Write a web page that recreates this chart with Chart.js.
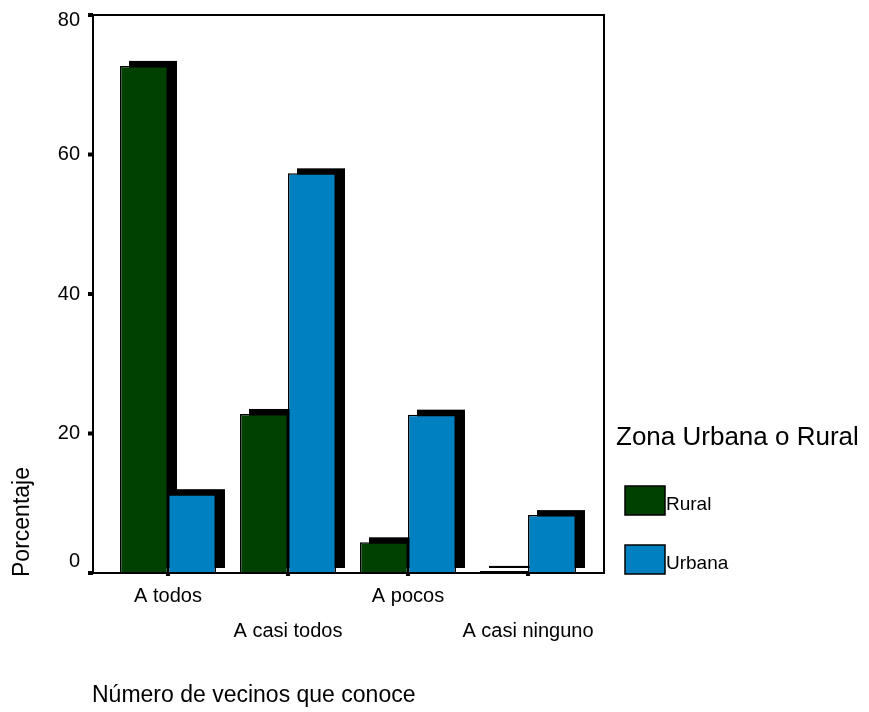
<!DOCTYPE html>
<html><head><meta charset="utf-8">
<script src="https://cdn.jsdelivr.net/npm/chart.js@4"></script>
<style>html,body{margin:0;padding:0;background:#fff}#wrap{width:869px;height:712px}</style>
</head><body><div id="wrap"><canvas id="c" width="869" height="712"></canvas></div>
<script>
const categories = ['A todos', 'A casi todos', 'A pocos', 'A casi ninguno'];
const rural = [72.7, 22.8, 4.4, 0.3];
const urbana = [11.3, 57.3, 22.7, 8.3];
const yTicks = [0, 20, 40, 60, 80];
const seriesNames = ['Rural', 'Urbana'];
const legendTitle = 'Zona Urbana o Rural';
const yTitle = 'Porcentaje';
const xTitle = 'Número de vecinos que conoce';

const FONT = '"Liberation Sans", Arial, sans-serif';
const colors = ['#004000', '#0080c0'];

const shadowPlugin = {
  id: 'shadow',
  beforeDatasetsDraw(chart) {
    const ctx = chart.ctx;
    ctx.save();
    ctx.fillStyle = '#000';
    chart.data.datasets.forEach((ds, i) => {
      chart.getDatasetMeta(i).data.forEach(bar => {
        const w = bar.width;
        const h = Math.max(bar.base - bar.y, 1.5);
        ctx.fillRect(bar.x - w / 2 + 9, bar.base - h - 5, w, h);
      });
    });
    ctx.restore();
  }
};

const framePlugin = {
  id: 'frame',
  afterDatasetsDraw(chart) {
    const ctx = chart.ctx;
    const a = chart.chartArea;
    const L = a.left - 15, R = a.right + 16, T = a.top, B = a.bottom;
    ctx.save();
    ctx.strokeStyle = '#000';
    ctx.lineWidth = 2;
    ctx.strokeRect(L, T, R - L, B - T);
    const ys = chart.scales.y;
    ctx.fillStyle = '#000';
    yTicks.forEach(v => {
      const py = ys.getPixelForValue(v);
      ctx.fillRect(L - 5, py - 2, 5, 4);
    });
    const xs = chart.scales.x;
    categories.forEach((c, i) => {
      const px = xs.getPixelForTick(i);
      ctx.fillRect(px - 2, B, 4, 3);
    });
    ctx.fillStyle = '#000';
    ctx.textBaseline = 'middle';
    ctx.textAlign = 'left';
    ctx.font = '23px ' + FONT;
    ctx.fillText(xTitle, 92, 696);
    ctx.save();
    ctx.translate(23, 522);
    ctx.rotate(-Math.PI / 2);
    ctx.textAlign = 'center';
    ctx.fillText(yTitle, 0, 0);
    ctx.restore();
    ctx.textAlign = 'left';
    ctx.font = '26px ' + FONT;
    ctx.fillText(legendTitle, 616, 438);
    ctx.font = '19px ' + FONT;
    const rows = [486, 545];
    seriesNames.forEach((n, i) => {
      ctx.fillStyle = colors[i];
      ctx.fillRect(625, rows[i], 40, 29);
      ctx.strokeStyle = '#000';
      ctx.lineWidth = 1.5;
      ctx.strokeRect(625, rows[i], 40, 29);
      ctx.fillStyle = '#000';
      ctx.fillText(n, 666, rows[i] + 19);
    });
    ctx.restore();
  }
};

new Chart(document.getElementById('c'), {
  type: 'bar',
  data: {
    labels: categories.map((c, i) => i % 2 === 0 ? [c, ''] : ['', c]),
    datasets: [
      { label: seriesNames[0], data: rural, backgroundColor: colors[0], borderColor: '#000', borderWidth: 1.5, categoryPercentage: 0.8, barPercentage: 1.0 },
      { label: seriesNames[1], data: urbana, backgroundColor: colors[1], borderColor: '#000', borderWidth: 1.5, categoryPercentage: 0.8, barPercentage: 1.0 }
    ]
  },
  options: {
    responsive: false,
    animation: false,
    layout: { padding: { top: 15, right: 281, left: 0, bottom: 0 } },
    plugins: { legend: { display: false }, tooltip: { enabled: false } },
    scales: {
      x: {
        grid: { display: false, drawTicks: false },
        border: { display: false },
        ticks: { color: '#000', font: { family: FONT, size: 20, lineHeight: 1.75 }, padding: 6, maxRotation: 0, autoSkip: false },
        afterFit(s) { s.height = 139; s.paddingLeft = 0; s.paddingRight = 0; }
      },
      y: {
        min: 0, max: 80,
        afterBuildTicks(s) { s.ticks = yTicks.map(v => ({ value: v })); },
        grid: { display: false, drawTicks: false },
        border: { display: false },
        ticks: {
          color: '#000',
          font: (ctx) => {
            const v = ctx.tick ? ctx.tick.value : null;
            if (v === 0) return { family: FONT, size: 20, lineHeight: '23px' };
            if (v === 80) return { family: FONT, size: 20, lineHeight: '10px' };
            return { family: FONT, size: 20 };
          },
          padding: 28,
          callback: (v) => v === 0 ? ['0', ''] : (v === 80 ? ['', '80'] : String(v))
        },
        afterFit(s) { s.width = 108; s.paddingTop = 0; s.paddingBottom = 0; }
      }
    }
  },
  plugins: [shadowPlugin, framePlugin]
});
</script></body></html>
